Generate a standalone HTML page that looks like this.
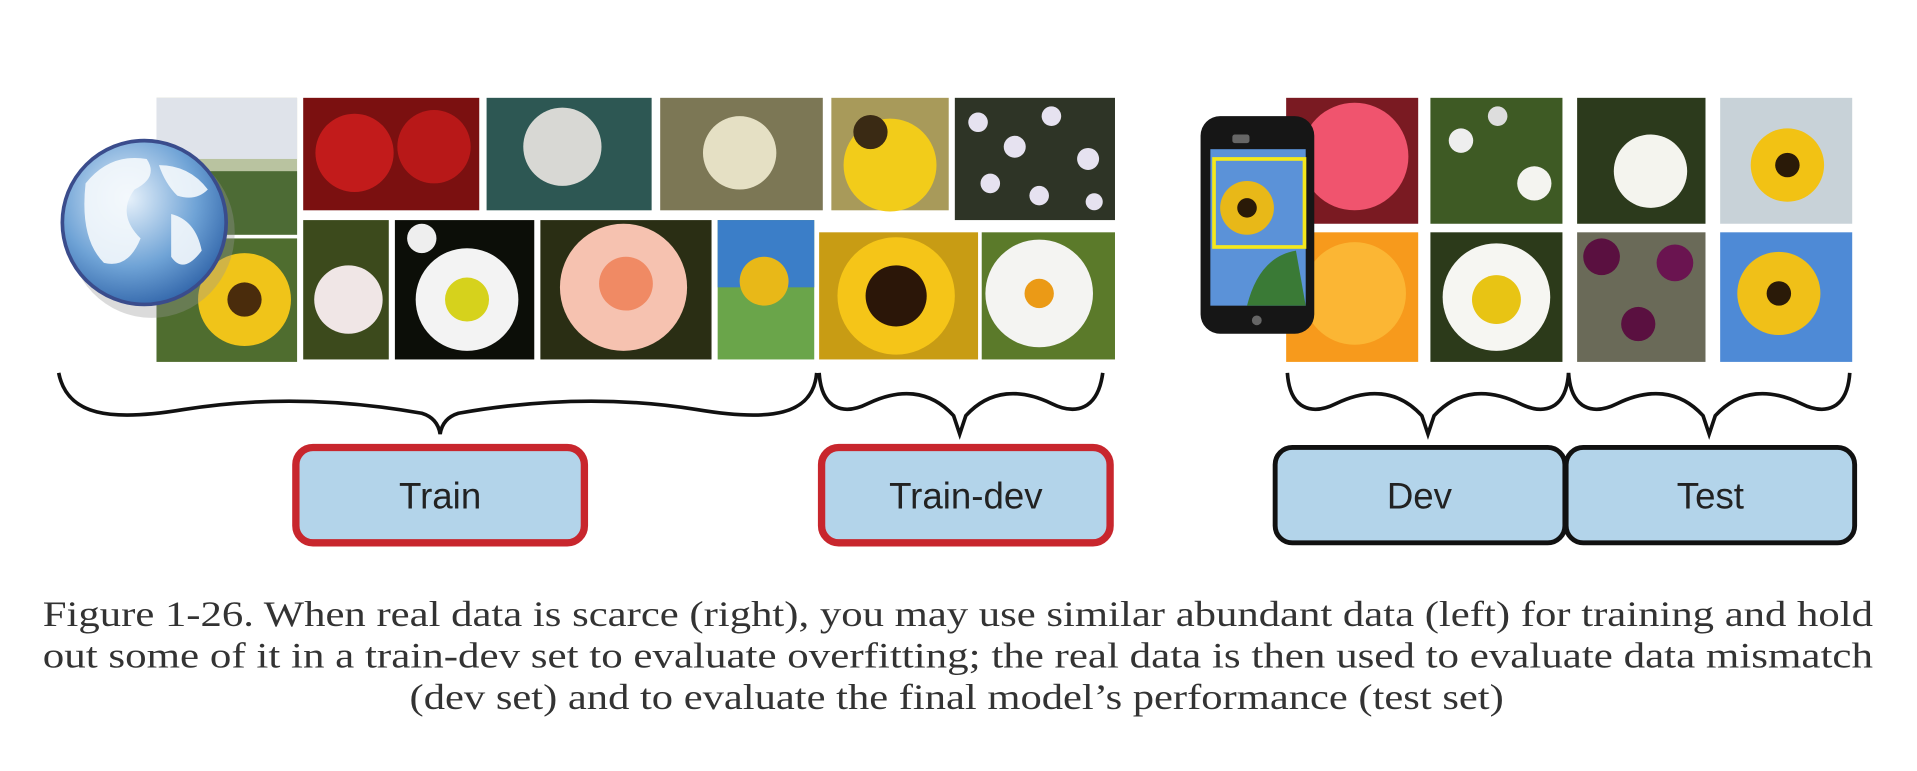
<!DOCTYPE html>
<html><head><meta charset="utf-8"><style>
html,body{margin:0;padding:0;background:#fff;}
svg{display:block;}
</style></head><body>
<svg width="1917" height="771" viewBox="0 0 1568 630.6" xmlns="http://www.w3.org/2000/svg">
<defs>
<radialGradient id="gl" cx="0.4" cy="0.35" r="0.7"><stop offset="0" stop-color="#e8f2fb"/><stop offset="0.6" stop-color="#6fa3d6"/><stop offset="1" stop-color="#2f63a8"/></radialGradient>
</defs>
<rect width="1568" height="631" fill="#fff"/>
<rect x="128" y="80" width="115" height="112" fill="#b9c3a0"/><rect x="128" y="80" width="115" height="50" fill="#dfe3ea"/><rect x="128" y="140" width="115" height="52" fill="#4d6b35"/>
<rect x="248" y="80" width="144" height="92" fill="#7b1010"/><circle cx="290" cy="125" r="32" fill="#c21b1b"/><circle cx="355" cy="120" r="30" fill="#b81818"/>
<rect x="398" y="80" width="135" height="92" fill="#2d5753"/><circle cx="460" cy="120" r="32" fill="#d8d8d4"/>
<rect x="540" y="80" width="133" height="92" fill="#7c7755"/><circle cx="605" cy="125" r="30" fill="#e5e0c4"/>
<rect x="680" y="80" width="96" height="92" fill="#a89a5a"/><circle cx="728" cy="135" r="38" fill="#f2cc1a"/><circle cx="712" cy="108" r="14" fill="#3a2a14"/>
<rect x="781" y="80" width="131" height="100" fill="#2e3426"/><g fill="#e6e2f0"><circle cx="800" cy="100" r="8"/><circle cx="830" cy="120" r="9"/><circle cx="860" cy="95" r="8"/><circle cx="890" cy="130" r="9"/><circle cx="810" cy="150" r="8"/><circle cx="850" cy="160" r="8"/><circle cx="895" cy="165" r="7"/></g>
<rect x="128" y="195" width="115" height="101" fill="#4f6d2f"/><circle cx="200" cy="245" r="38" fill="#f0c419"/><circle cx="200" cy="245" r="14" fill="#4a2c0c"/>
<rect x="248" y="180" width="70" height="114" fill="#3c4a1c"/><circle cx="285" cy="245" r="28" fill="#f0e6e6"/>
<rect x="323" y="180" width="114" height="114" fill="#0c0e08"/><circle cx="382" cy="245" r="42" fill="#f3f3f3"/><circle cx="382" cy="245" r="18" fill="#d6d21c"/><circle cx="345" cy="195" r="12" fill="#eee"/>
<rect x="442" y="180" width="140" height="114" fill="#2a2e14"/><circle cx="510" cy="235" r="52" fill="#f6c2b0"/><circle cx="512" cy="232" r="22" fill="#f08a64"/>
<rect x="587" y="180" width="79" height="114" fill="#6aa54a"/><rect x="587" y="180" width="79" height="55" fill="#3b7ec8"/><circle cx="625" cy="230" r="20" fill="#e8b818"/>
<rect x="670" y="190" width="130" height="104" fill="#c89c14"/><circle cx="733" cy="242" r="48" fill="#f5c518"/><circle cx="733" cy="242" r="25" fill="#2b1608"/>
<rect x="803" y="190" width="109" height="104" fill="#5b7a2a"/><circle cx="850" cy="240" r="44" fill="#f4f4f2"/><circle cx="850" cy="240" r="12" fill="#eb9a16"/>
<ellipse cx="124" cy="190" rx="68" ry="70" fill="#999" opacity="0.35"/>
<circle cx="118" cy="182" r="67" fill="url(#gl)" stroke="#3a4c8c" stroke-width="3"/>
<path d="M70 150 q20 -25 50 -20 q10 15 -10 25 q-15 20 5 40 q-10 25 -30 20 q-20 -20 -15 -65z" fill="#f4f8fc" opacity="0.9"/>
<path d="M130 135 q25 0 40 20 q-10 10 -25 5 q-10 -10 -15 -25z M140 175 q20 5 25 30 q-15 20 -25 5z" fill="#f4f8fc" opacity="0.9"/>
<rect x="1052" y="80" width="108" height="103" fill="#7a1a22"/><circle cx="1108" cy="128" r="44" fill="#f0546e"/>
<rect x="1170" y="80" width="108" height="103" fill="#3e5a24"/><circle cx="1195" cy="115" r="10" fill="#eee"/><circle cx="1255" cy="150" r="14" fill="#f4f4f0"/><circle cx="1225" cy="95" r="8" fill="#ddd"/>
<rect x="1290" y="80" width="105" height="103" fill="#2c3a1c"/><circle cx="1350" cy="140" r="30" fill="#f4f4ee"/>
<rect x="1407" y="80" width="108" height="103" fill="#c8d2d8"/><circle cx="1462" cy="135" r="30" fill="#f2c214"/><circle cx="1462" cy="135" r="10" fill="#2a1a08"/>
<rect x="1052" y="190" width="108" height="106" fill="#f79a1c"/><circle cx="1108" cy="240" r="42" fill="#fbb634"/>
<rect x="1170" y="190" width="108" height="106" fill="#2c3a1a"/><circle cx="1224" cy="243" r="44" fill="#f6f6f2"/><circle cx="1224" cy="245" r="20" fill="#e8c414"/>
<rect x="1290" y="190" width="105" height="106" fill="#6a6a58"/><circle cx="1310" cy="210" r="15" fill="#5a1040"/><circle cx="1370" cy="215" r="15" fill="#6a1450"/><circle cx="1340" cy="265" r="14" fill="#5a1040"/>
<rect x="1407" y="190" width="108" height="106" fill="#4e8ad6"/><circle cx="1455" cy="240" r="34" fill="#f0c018"/><circle cx="1455" cy="240" r="10" fill="#2a1a08"/>
<rect x="982" y="95" width="93" height="178" rx="16" fill="#161616"/>
<rect x="1008" y="110" width="14" height="7" rx="2" fill="#666"/>
<rect x="990" y="122" width="78" height="128" fill="#5b92d8"/>
<rect x="993" y="130" width="74" height="72" fill="none" stroke="#f4e81c" stroke-width="3"/>
<circle cx="1020" cy="170" r="22" fill="#e8b818"/><circle cx="1020" cy="170" r="8" fill="#2a1a08"/>
<path d="M1020 250 q10 -40 40 -45 l8 45z" fill="#3a7a36"/>
<circle cx="1028" cy="262" r="4" fill="#666"/>
<g fill="none" stroke="#111" stroke-width="3">
<path d="M48 305 C55 340 90 345 150 335 C230 322 300 330 345 338 Q358 342 360 355 Q362 342 375 338 C420 330 490 322 570 335 C630 345 665 340 668 305"/>
<path d="M670 305 C672 335 690 340 710 330 C735 318 760 318 780 340 L785 355 L790 340 C810 318 835 318 860 330 C880 340 898 335 902 305"/>
<path d="M1053 305 C1055 335 1073 340 1093 330 C1118 318 1143 318 1163 340 L1168 355 L1173 340 C1193 318 1218 318 1243 330 C1263 340 1281 335 1283 305"/>
<path d="M1283 305 C1285 335 1303 340 1323 330 C1348 318 1373 318 1393 340 L1398 355 L1403 340 C1423 318 1448 318 1473 330 C1493 340 1511 335 1513 305"/>
</g>
<rect x="242" y="366" width="236" height="78" rx="14" fill="#b3d4ea" stroke="#c8262d" stroke-width="6"/>
<rect x="672" y="366" width="236" height="78" rx="14" fill="#b3d4ea" stroke="#c8262d" stroke-width="6"/>
<rect x="1043" y="366" width="237" height="78" rx="14" fill="#b3d4ea" stroke="#111" stroke-width="4"/>
<rect x="1281" y="366" width="236" height="78" rx="14" fill="#b3d4ea" stroke="#111" stroke-width="4"/>
<g font-family="Liberation Sans, sans-serif" font-size="30" fill="#222" text-anchor="middle">
<text x="360" y="416">Train</text>
<text x="790" y="416">Train-dev</text>
<text x="1161" y="416">Dev</text>
<text x="1399" y="416">Test</text>
</g>
<g font-family="Liberation Serif, serif" font-size="29" fill="#333">
<text x="35" y="512" textLength="1497" lengthAdjust="spacingAndGlyphs">Figure 1-26. When real data is scarce (right), you may use similar abundant data (left) for training and hold</text>
<text x="35" y="546" textLength="1497" lengthAdjust="spacingAndGlyphs">out some of it in a train-dev set to evaluate overfitting; the real data is then used to evaluate data mismatch</text>
<text x="335" y="580" textLength="895" lengthAdjust="spacingAndGlyphs">(dev set) and to evaluate the final model’s performance (test set)</text>
</g>
</svg>
</body></html>
